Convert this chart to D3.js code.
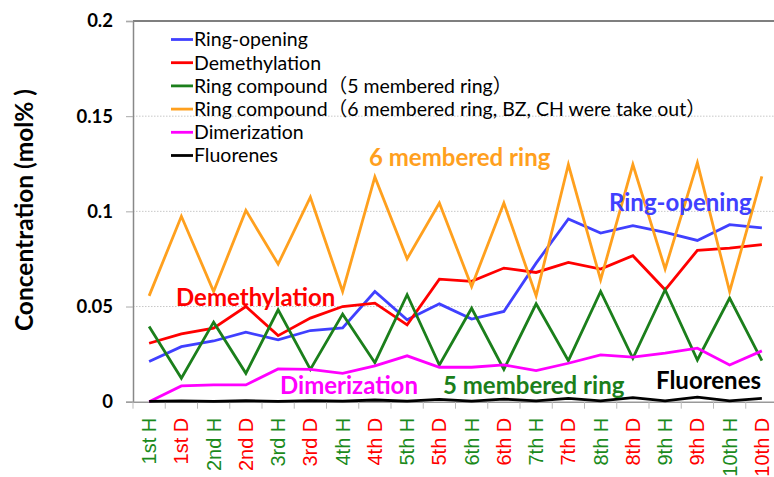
<!DOCTYPE html>
<html lang="en">
<head>
	<meta charset="UTF-8"/>
	<title>Concentration chart</title>
	<script src="https://d3js.org/d3.v7.min.js"></script>
	<style>
		body { margin: 0; background: #fff; }
		.series { fill: none; stroke-width: 2.8; stroke-linejoin: miter; }
		.grid line { stroke: #c8c8c8; stroke-dasharray: 1.5 1.5; }
		text { font-family: Lato, "Noto Sans CJK JP", sans-serif; }
	</style>
</head>
<body>
	<div id="chart"></div>
	<script>
	var w = 774;
	var h = 477;

	var categories = ["1st H","1st D","2nd H","2nd D","3rd H","3rd D","4th H","4th D","5th H","5th D",
					"6th H","6th D","7th H","7th D","8th H","8th D","9th H","9th D","10th H","10th D"];

	var ringOpening = [0.0211,0.0289,0.0319,0.0365,0.0325,0.0374,0.0388,0.0579,0.0430,0.0514,
					0.0434,0.0474,0.0728,0.0960,0.0886,0.0925,0.0890,0.0847,0.0930,0.0913];
	var demethylation = [0.0307,0.0356,0.0386,0.0500,0.0347,0.0439,0.0500,0.0518,0.0404,0.0644,
					0.0632,0.0702,0.0679,0.0732,0.0697,0.0767,0.0588,0.0795,0.0807,0.0825];
	var ring5 = [0.0395,0.0123,0.0418,0.0149,0.0483,0.0170,0.0460,0.0205,0.0562,0.0193,
					0.0491,0.0170,0.0514,0.0216,0.0579,0.0228,0.0588,0.0219,0.0544,0.0216];
	var ring6 = [0.0556,0.0974,0.0579,0.1005,0.0723,0.1074,0.0579,0.1181,0.0751,0.1044,
					0.0605,0.1044,0.0556,0.1246,0.0640,0.1246,0.0697,0.1255,0.0579,0.1184];
	var dimerization = [0.0000,0.0083,0.0088,0.0088,0.0172,0.0170,0.0149,0.0188,0.0241,0.0181,
					0.0181,0.0193,0.0163,0.0202,0.0246,0.0234,0.0255,0.0281,0.0193,0.0267];
	var fluorenes = [0.0002,0.0004,0.0002,0.0005,0.0002,0.0006,0.0003,0.0009,0.0003,0.0012,
					0.0003,0.0014,0.0004,0.0017,0.0004,0.0021,0.0004,0.0024,0.0004,0.0018];

	var yTicks = [0, 0.05, 0.1, 0.15, 0.2];

	var series = [
		{ name: "Ring-opening", color: "#4040ff", values: ringOpening },
		{ name: "Demethylation", color: "#ff0000", values: demethylation },
		{ name: "Ring compound（5 membered ring）", color: "#1b7f1b", values: ring5 },
		{ name: "Ring compound（6 membered ring, BZ, CH were take out）", color: "#ffa01e", values: ring6 },
		{ name: "Dimerization", color: "#ff00ff", values: dimerization },
		{ name: "Fluorenes", color: "#000000", values: fluorenes }
	];

	// labels written on the plot
	var notes = [
		{ text: "6 membered ring", color: "#ffa01e", x: 369, y: 166 },
		{ text: "Ring-opening", color: "#4040ff", x: 609, y: 211 },
		{ text: "Demethylation", color: "#ff0000", x: 176, y: 306 },
		{ text: "Dimerization", color: "#ff00ff", x: 280, y: 394 },
		{ text: "5 membered ring", color: "#1b7f1b", x: 443, y: 394 },
		{ text: "Fluorenes", color: "#000000", x: 656, y: 389 }
	];

	var padL = 133, padT = 21, padB = 401.7;

	var svg = d3.select("#chart")
				.append("svg")
				.attr("width", w)
				.attr("height", h);

	var xScale = d3.scaleBand()
					.domain(categories)
					.range([padL, padL + 32.25 * categories.length]);

	var yScale = d3.scaleLinear()
					.domain([0, 0.2])
					.range([padB, padT]);

	// gridlines
	svg.append("g")
		.attr("class", "grid")
		.selectAll("line")
		.data(yTicks.slice(1, 4))
		.enter()
		.append("line")
		.attr("x1", padL)
		.attr("x2", w)
		.attr("y1", function(d){ return yScale(d); })
		.attr("y2", function(d){ return yScale(d); });

	// top border
	svg.append("line")
		.attr("x1", padL).attr("x2", w)
		.attr("y1", padT).attr("y2", padT)
		.attr("stroke", "#555").attr("stroke-width", 1.5);

	var yAxis = d3.axisLeft(yScale)
					.tickValues(yTicks)
					.tickFormat(function(d){ return d === 0 ? "0" : String(d); })
					.tickSize(7)
					.tickPadding(13);

	var gy = svg.append("g")
		.attr("transform", "translate(" + padL + ",0)")
		.call(yAxis);
	gy.select(".domain").attr("stroke", "#888").attr("stroke-width", 1.5);
	gy.selectAll(".tick line").attr("stroke", "#aaa");
	gy.selectAll("text")
		.style("font-family", "Lato, sans-serif")
		.style("font-weight", "bold")
		.style("font-size", "18.5px")
		.attr("fill", "#000");

	var xAxis = d3.axisBottom(xScale)
					.tickSize(0)
					.tickPadding(0);

	var gx = svg.append("g")
		.attr("transform", "translate(0," + padB + ")")
		.call(xAxis);
	gx.select(".domain").attr("stroke", "#999").attr("stroke-width", 1.5);
	gx.selectAll(".tick text")
		.attr("transform", "translate(0,16) rotate(-90)")
		.attr("text-anchor", "end")
		.attr("dy", "0.35em")
		.attr("x", 0).attr("y", 0)
		.style("font-family", "'Liberation Sans', Arial, sans-serif")
		.style("font-size", "20px")
		.attr("fill", function(d){ return /H$/.test(d) ? "#1b8a1b" : "#ff0000"; });

	// small ticks at band boundaries
	svg.append("g")
		.selectAll("line")
		.data(categories)
		.enter()
		.append("line")
		.attr("x1", function(d){ return xScale(d); })
		.attr("x2", function(d){ return xScale(d); })
		.attr("y1", padB)
		.attr("y2", padB + 7)
		.attr("stroke", "#bbb");

	var line = d3.line()
				.x(function(d, i){ return xScale(categories[i]) + xScale.bandwidth() / 2; })
				.y(function(d){ return yScale(d); });

	svg.selectAll("path.series")
		.data(series)
		.enter()
		.append("path")
		.attr("class", "series")
		.attr("stroke", function(d){ return d.color; })
		.attr("d", function(d){ return line(d.values); });

	// legend
	var legend = svg.append("g");
	var items = legend.selectAll("g")
					.data(series)
					.enter()
					.append("g")
					.attr("transform", function(d, i){ return "translate(171," + (39.5 + i * 23.2) + ")"; });
	items.append("line")
		.attr("x1", 0).attr("x2", 22)
		.attr("stroke", function(d){ return d.color; })
		.attr("stroke-width", 2.8);
	items.append("text")
		.attr("x", 23)
		.attr("dy", "0.35em")
		.style("font-size", "19.5px")
		.text(function(d){ return d.name; });

	svg.selectAll("text.note")
		.data(notes)
		.enter()
		.append("text")
		.attr("class", "note")
		.attr("x", function(d){ return d.x; })
		.attr("y", function(d){ return d.y; })
		.attr("fill", function(d){ return d.color; })
		.style("font-weight", "bold")
		.style("font-size", "24px")
		.text(function(d){ return d.text; });

	svg.append("text")
		.attr("transform", "translate(33,210) rotate(-90)")
		.attr("text-anchor", "middle")
		.style("font-weight", "bold")
		.style("font-size", "24.5px")
		.text("Concentration (mol% )");
	</script>
</body>
</html>
